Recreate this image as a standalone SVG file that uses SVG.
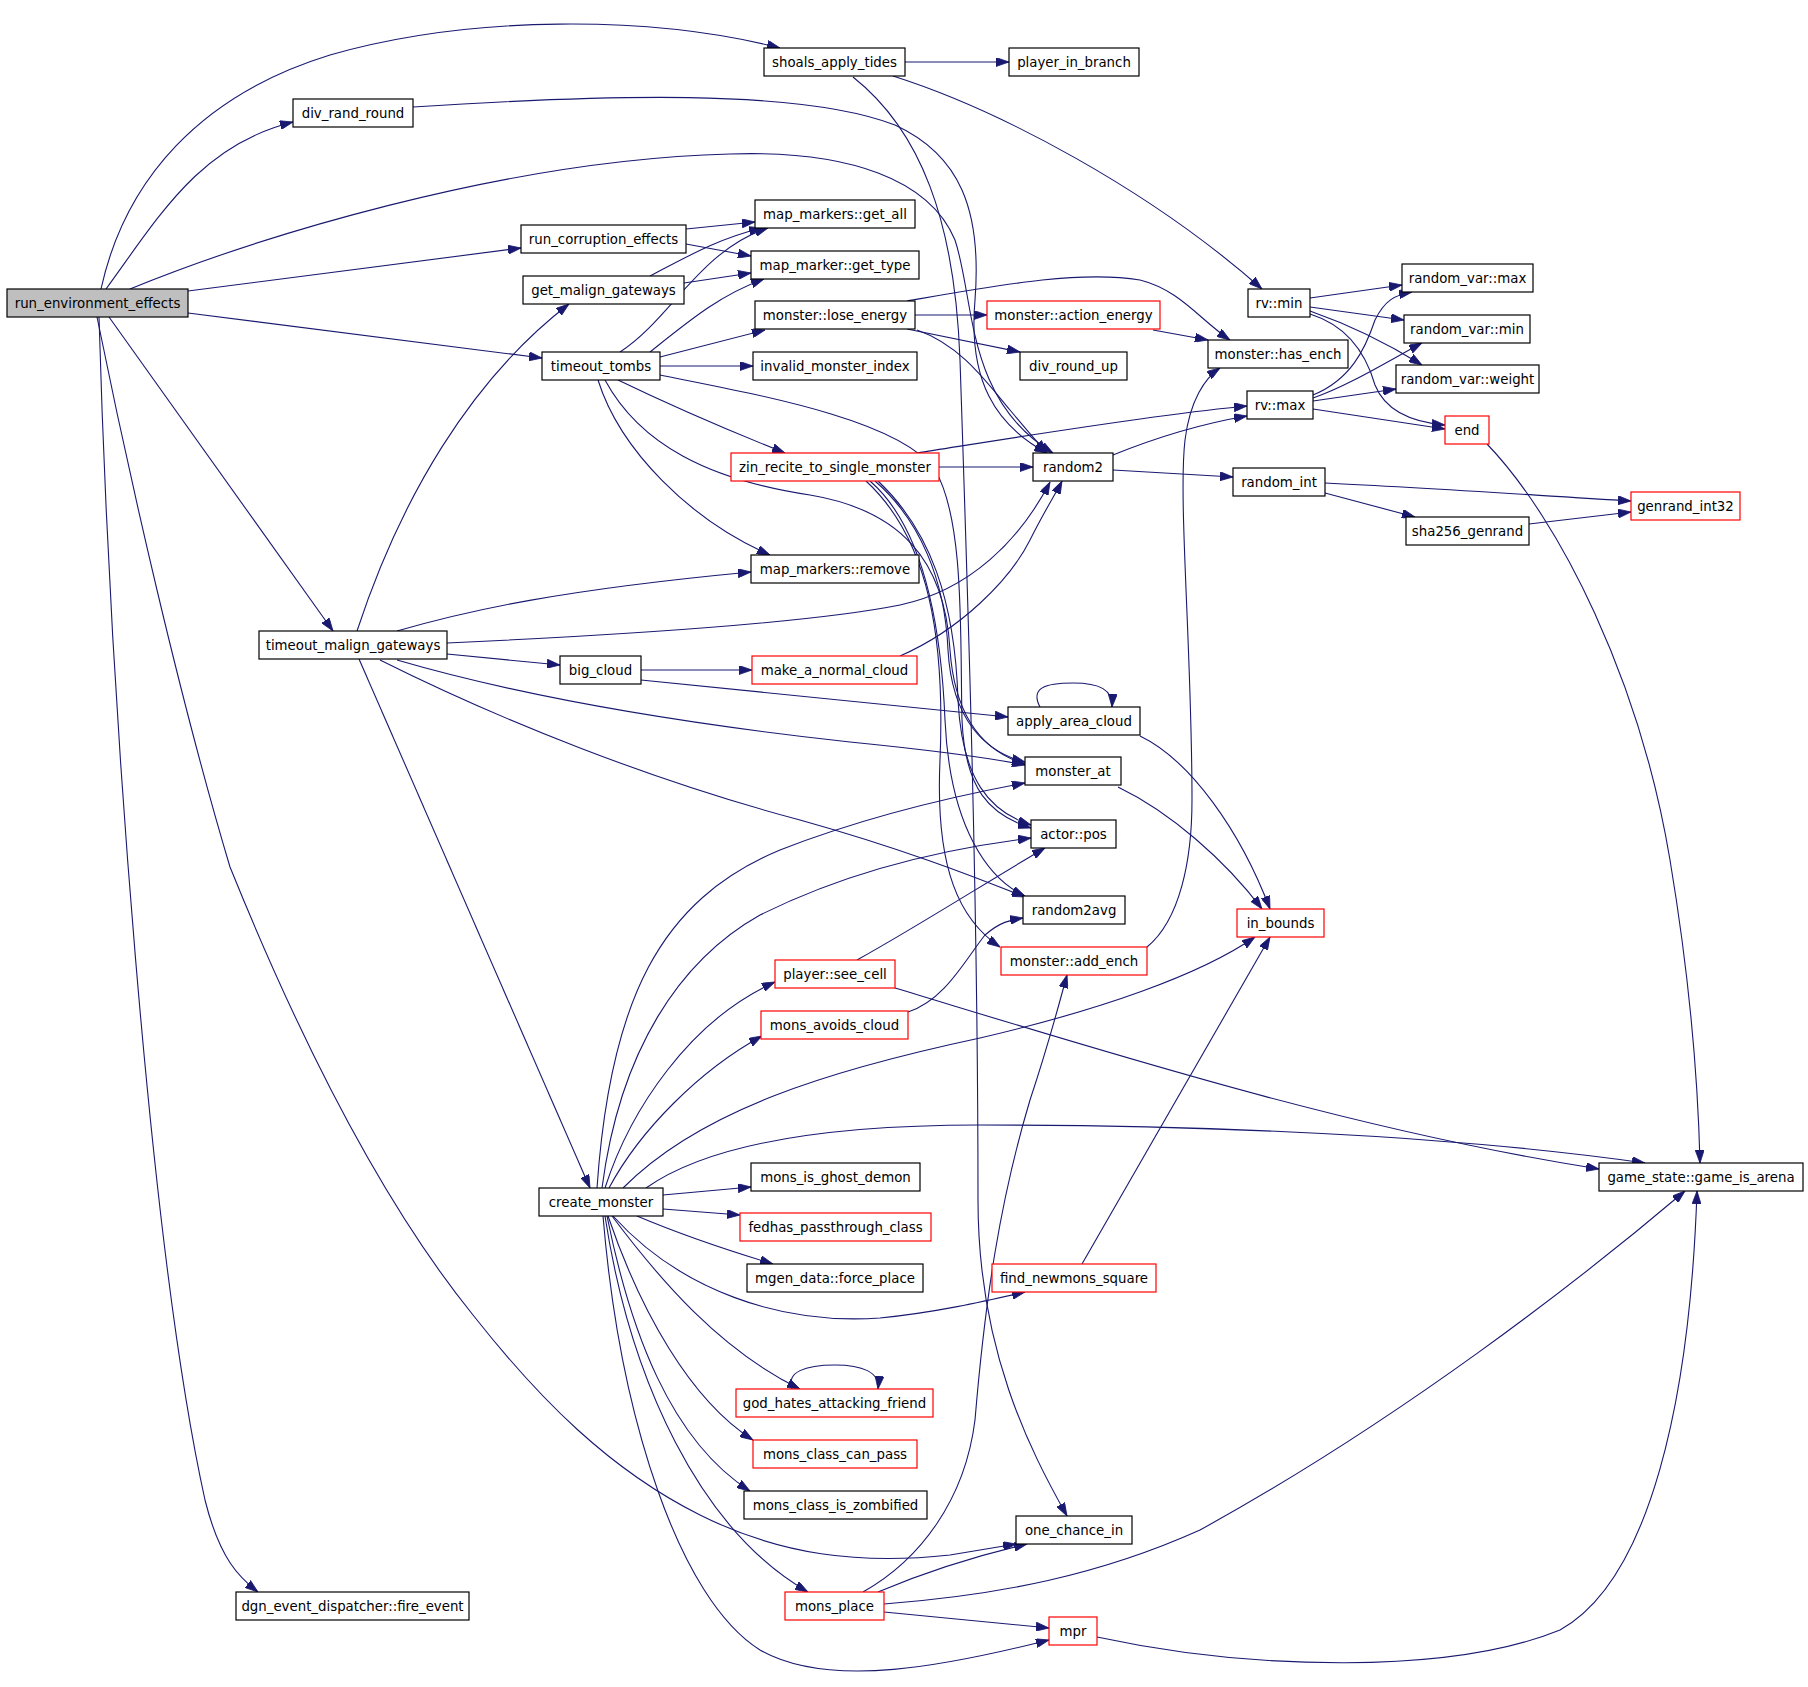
<svg xmlns="http://www.w3.org/2000/svg" width="1808" height="1687" viewBox="0 0 1808 1687">
<style>
.n rect{fill:#fff;stroke:#000;stroke-width:1.2}
.n.r rect{stroke:#f00}
.n.root rect{fill:#bfbfbf}
.n text{font-family:"DejaVu Sans","Liberation Sans",sans-serif;font-size:13.33px;fill:#000;text-anchor:middle}
.e path{fill:none;stroke:#191970;stroke-width:1.1;marker-end:url(#a)}
</style>
<defs>
<marker id="a" markerUnits="userSpaceOnUse" markerWidth="13" markerHeight="9" refX="13" refY="4.5" orient="auto">
<path d="M0,0 L13,4.5 L0,9 z" fill="#191970" stroke="#191970" stroke-width="0.8"/>
</marker>
</defs>
<rect width="1808" height="1687" fill="#fff"/>
<g id="edges" class="e">
<path d="M101,289 C125,180 200,95 330,55 C470,15 650,15 780,48"/>
<path d="M106,289 C160,215 200,145 293,122"/>
<path d="M130,289 C250,240 500,160 730,154 C850,150 930,180 955,240 C975,300 965,400 1053,453"/>
<path d="M188,291 L521,248"/>
<path d="M188,313 L542,358"/>
<path d="M109,317 L333,631"/>
<path d="M97,317 C130,480 180,700 230,867 C300,1040 380,1200 473,1315 C540,1400 610,1470 700,1515 C780,1555 860,1565 950,1555 L1016,1544"/>
<path d="M99,317 C110,700 150,1250 205,1500 C220,1560 240,1578 258,1592"/>
<path d="M905,62 L1009,62"/>
<path d="M893,76 C1000,110 1150,190 1262,289"/>
<path d="M853,77 C920,130 955,220 960,360 C968,600 978,900 978,1200 C978,1350 1030,1450 1067,1516"/>
<path d="M413,107 C600,95 800,88 895,125 C960,155 982,210 975,300 C968,380 995,425 1047,453"/>
<path d="M686,229 L755,222"/>
<path d="M686,244 L751,256"/>
<path d="M650,276 C690,255 720,238 762,228"/>
<path d="M684,283 L751,273"/>
<path d="M620,352 C670,320 700,250 768,228"/>
<path d="M650,352 C690,320 720,295 764,279"/>
<path d="M660,357 L765,330"/>
<path d="M660,366 L753,366"/>
<path d="M618,380 C680,410 740,435 785,453"/>
<path d="M598,380 C620,450 690,520 770,555"/>
<path d="M605,380 C640,445 710,480 810,495 C900,510 945,560 950,650 C955,720 985,752 1025,764"/>
<path d="M660,375 C760,395 900,420 935,470 C965,520 960,640 962,720 C965,790 990,815 1031,828"/>
<path d="M915,315 L987,315"/>
<path d="M907,301 C1000,285 1080,270 1140,280 C1180,290 1200,320 1230,340"/>
<path d="M907,329 L1020,352"/>
<path d="M917,330 C960,345 985,380 1010,410 C1025,428 1035,440 1047,453"/>
<path d="M1153,330 L1208,340"/>
<path d="M1310,298 L1402,285"/>
<path d="M1310,307 L1404,320"/>
<path d="M1310,311 C1350,325 1390,345 1422,365"/>
<path d="M1310,314 C1345,325 1365,350 1375,385 C1385,410 1410,422 1445,425"/>
<path d="M1313,395 C1350,380 1365,350 1375,320 C1385,300 1395,295 1412,292"/>
<path d="M1313,398 C1350,385 1390,360 1422,343"/>
<path d="M1313,401 L1396,389"/>
<path d="M1313,409 L1445,429"/>
<path d="M1113,455 C1150,440 1200,424 1247,416"/>
<path d="M1113,470 L1233,477"/>
<path d="M1325,483 C1430,488 1530,495 1631,501"/>
<path d="M1325,493 L1415,517"/>
<path d="M1529,524 L1631,512"/>
<path d="M1487,444 C1560,520 1640,680 1670,860 C1690,980 1698,1080 1700,1163"/>
<path d="M939,467 L1033,467"/>
<path d="M917,453 C1000,440 1150,415 1247,406"/>
<path d="M875,481 C920,520 945,580 948,650 C952,720 985,752 1025,762"/>
<path d="M878,481 C930,530 955,600 958,700 C962,780 990,812 1031,825"/>
<path d="M870,481 C915,520 940,600 945,720 C950,830 990,880 1025,896"/>
<path d="M866,481 C930,540 945,640 940,760 C935,870 960,920 1000,947"/>
<path d="M357,631 C400,500 470,380 569,304"/>
<path d="M397,631 C470,610 560,590 751,572"/>
<path d="M447,643 C600,636 800,625 900,605 C970,590 1020,540 1050,482"/>
<path d="M447,654 L560,665"/>
<path d="M397,660 C500,690 650,720 850,742 C950,752 1000,760 1025,765"/>
<path d="M380,660 C500,720 650,780 800,820 C900,848 970,875 1025,897"/>
<path d="M359,659 L590,1188"/>
<path d="M641,670 L752,670"/>
<path d="M641,680 L1008,717"/>
<path d="M900,656 C960,630 1010,580 1030,540 C1045,510 1055,495 1062,481"/>
<path d="M1040,707 C1030,688 1045,683 1073,683 C1100,683 1113,690 1112,707"/>
<path d="M1140,736 C1190,760 1240,830 1270,909"/>
<path d="M1118,787 C1170,812 1225,860 1262,909"/>
<path d="M857,960 C920,925 990,880 1045,848"/>
<path d="M895,988 C1100,1050 1350,1130 1599,1169"/>
<path d="M908,1012 C945,1000 965,960 985,935 C1000,922 1010,920 1023,918"/>
<path d="M1147,947 C1180,920 1192,860 1192,800 C1192,650 1178,500 1185,440 C1190,400 1205,378 1220,368"/>
<path d="M663,1195 L751,1187"/>
<path d="M663,1209 L740,1215"/>
<path d="M637,1216 C670,1230 720,1248 773,1264"/>
<path d="M613,1216 C680,1290 780,1325 880,1318 C940,1312 990,1300 1025,1292"/>
<path d="M612,1216 C660,1280 720,1350 800,1389"/>
<path d="M792,1389 C786,1372 805,1365 835,1365 C862,1365 880,1372 878,1389"/>
<path d="M608,1216 C640,1310 690,1400 753,1440"/>
<path d="M607,1216 C630,1330 670,1440 750,1491"/>
<path d="M605,1216 C630,1380 700,1530 808,1592"/>
<path d="M603,1216 C620,1420 680,1600 760,1650 C830,1690 950,1665 1049,1640"/>
<path d="M605,1188 C630,1110 690,1020 775,982"/>
<path d="M609,1188 C640,1130 700,1070 762,1036"/>
<path d="M597,1188 C610,1000 660,900 780,850 C870,815 960,795 1025,783"/>
<path d="M602,1188 C620,1050 680,960 760,915 C850,870 950,848 1031,838"/>
<path d="M623,1188 C700,1110 830,1070 980,1038 C1100,1010 1200,975 1255,937"/>
<path d="M646,1188 C700,1150 800,1125 980,1125 C1200,1125 1450,1135 1645,1163"/>
<path d="M1082,1264 L1270,937"/>
<path d="M878,1592 C930,1570 980,1555 1027,1544"/>
<path d="M884,1612 C950,1618 1000,1623 1049,1628"/>
<path d="M884,1604 C1000,1595 1100,1575 1200,1530 C1400,1420 1580,1280 1685,1191"/>
<path d="M863,1592 C920,1560 965,1500 975,1420 C985,1300 1000,1200 1030,1100 C1050,1040 1060,1000 1067,975"/>
<path d="M1097,1637 C1250,1670 1450,1675 1560,1630 C1650,1580 1690,1400 1697,1191"/>
</g>
<g id="n1" class="n root"><rect x="7" y="289" width="181" height="28"/><text x="97.5" y="307.5">run_environment_effects</text></g>
<g id="n2" class="n"><rect x="764" y="48" width="141" height="28"/><text x="834.5" y="66.5">shoals_apply_tides</text></g>
<g id="n3" class="n"><rect x="1009" y="48" width="130" height="28"/><text x="1074" y="66.5">player_in_branch</text></g>
<g id="n4" class="n"><rect x="293" y="99" width="120" height="28"/><text x="353" y="117.5">div_rand_round</text></g>
<g id="n5" class="n"><rect x="521" y="225" width="165" height="28"/><text x="603.5" y="243.5">run_corruption_effects</text></g>
<g id="n6" class="n"><rect x="755" y="200" width="160" height="28"/><text x="835" y="218.5">map_markers::get_all</text></g>
<g id="n7" class="n"><rect x="523" y="276" width="161" height="28"/><text x="603.5" y="294.5">get_malign_gateways</text></g>
<g id="n8" class="n"><rect x="751" y="251" width="168" height="28"/><text x="835" y="269.5">map_marker::get_type</text></g>
<g id="n9" class="n"><rect x="755" y="301" width="160" height="28"/><text x="835" y="319.5">monster::lose_energy</text></g>
<g id="n10" class="n r"><rect x="987" y="301" width="173" height="28"/><text x="1073.5" y="319.5">monster::action_energy</text></g>
<g id="n11" class="n"><rect x="1248" y="289" width="62" height="28"/><text x="1279" y="307.5">rv::min</text></g>
<g id="n12" class="n"><rect x="1402" y="264" width="131" height="28"/><text x="1467.5" y="282.5">random_var::max</text></g>
<g id="n13" class="n"><rect x="1404" y="315" width="126" height="28"/><text x="1467" y="333.5">random_var::min</text></g>
<g id="n14" class="n"><rect x="1396" y="365" width="143" height="28"/><text x="1467.5" y="383.5">random_var::weight</text></g>
<g id="n15" class="n"><rect x="1208" y="340" width="140" height="28"/><text x="1278" y="358.5">monster::has_ench</text></g>
<g id="n16" class="n"><rect x="542" y="352" width="118" height="28"/><text x="601" y="370.5">timeout_tombs</text></g>
<g id="n17" class="n"><rect x="753" y="352" width="164" height="28"/><text x="835" y="370.5">invalid_monster_index</text></g>
<g id="n18" class="n"><rect x="1020" y="352" width="107" height="28"/><text x="1073.5" y="370.5">div_round_up</text></g>
<g id="n19" class="n"><rect x="1247" y="391" width="66" height="28"/><text x="1280" y="409.5">rv::max</text></g>
<g id="n20" class="n r"><rect x="1445" y="416" width="44" height="28"/><text x="1467" y="434.5">end</text></g>
<g id="n21" class="n r"><rect x="731" y="453" width="208" height="28"/><text x="835" y="471.5">zin_recite_to_single_monster</text></g>
<g id="n22" class="n"><rect x="1033" y="453" width="80" height="28"/><text x="1073" y="471.5">random2</text></g>
<g id="n23" class="n"><rect x="1233" y="468" width="92" height="28"/><text x="1279" y="486.5">random_int</text></g>
<g id="n24" class="n r"><rect x="1631" y="492" width="109" height="28"/><text x="1685.5" y="510.5">genrand_int32</text></g>
<g id="n25" class="n"><rect x="1406" y="517" width="123" height="28"/><text x="1467.5" y="535.5">sha256_genrand</text></g>
<g id="n26" class="n"><rect x="751" y="555" width="168" height="28"/><text x="835" y="573.5">map_markers::remove</text></g>
<g id="n27" class="n"><rect x="259" y="631" width="188" height="28"/><text x="353" y="649.5">timeout_malign_gateways</text></g>
<g id="n28" class="n"><rect x="560" y="656" width="81" height="28"/><text x="600.5" y="674.5">big_cloud</text></g>
<g id="n29" class="n r"><rect x="752" y="656" width="165" height="28"/><text x="834.5" y="674.5">make_a_normal_cloud</text></g>
<g id="n30" class="n"><rect x="1008" y="707" width="132" height="28"/><text x="1074" y="725.5">apply_area_cloud</text></g>
<g id="n31" class="n"><rect x="1025" y="757" width="96" height="28"/><text x="1073" y="775.5">monster_at</text></g>
<g id="n32" class="n"><rect x="1031" y="820" width="85" height="28"/><text x="1073.5" y="838.5">actor::pos</text></g>
<g id="n33" class="n"><rect x="1023" y="896" width="102" height="28"/><text x="1074" y="914.5">random2avg</text></g>
<g id="n34" class="n r"><rect x="1237" y="909" width="87" height="28"/><text x="1280.5" y="927.5">in_bounds</text></g>
<g id="n35" class="n r"><rect x="1001" y="947" width="146" height="28"/><text x="1074" y="965.5">monster::add_ench</text></g>
<g id="n36" class="n r"><rect x="775" y="960" width="120" height="28"/><text x="835" y="978.5">player::see_cell</text></g>
<g id="n37" class="n r"><rect x="761" y="1011" width="147" height="28"/><text x="834.5" y="1029.5">mons_avoids_cloud</text></g>
<g id="n38" class="n"><rect x="1599" y="1163" width="204" height="28"/><text x="1701" y="1181.5">game_state::game_is_arena</text></g>
<g id="n39" class="n"><rect x="751" y="1163" width="169" height="28"/><text x="835.5" y="1181.5">mons_is_ghost_demon</text></g>
<g id="n40" class="n"><rect x="539" y="1188" width="124" height="28"/><text x="601" y="1206.5">create_monster</text></g>
<g id="n41" class="n r"><rect x="740" y="1213" width="191" height="28"/><text x="835.5" y="1231.5">fedhas_passthrough_class</text></g>
<g id="n42" class="n"><rect x="747" y="1264" width="176" height="28"/><text x="835" y="1282.5">mgen_data::force_place</text></g>
<g id="n43" class="n r"><rect x="992" y="1264" width="164" height="28"/><text x="1074" y="1282.5">find_newmons_square</text></g>
<g id="n44" class="n r"><rect x="736" y="1389" width="197" height="28"/><text x="834.5" y="1407.5">god_hates_attacking_friend</text></g>
<g id="n45" class="n r"><rect x="753" y="1440" width="164" height="28"/><text x="835" y="1458.5">mons_class_can_pass</text></g>
<g id="n46" class="n"><rect x="744" y="1491" width="183" height="28"/><text x="835.5" y="1509.5">mons_class_is_zombified</text></g>
<g id="n47" class="n"><rect x="1016" y="1516" width="116" height="28"/><text x="1074" y="1534.5">one_chance_in</text></g>
<g id="n48" class="n"><rect x="236" y="1592" width="233" height="28"/><text x="352.5" y="1610.5">dgn_event_dispatcher::fire_event</text></g>
<g id="n49" class="n r"><rect x="785" y="1592" width="99" height="28"/><text x="834.5" y="1610.5">mons_place</text></g>
<g id="n50" class="n r"><rect x="1049" y="1617" width="48" height="28"/><text x="1073" y="1635.5">mpr</text></g>
</svg>
